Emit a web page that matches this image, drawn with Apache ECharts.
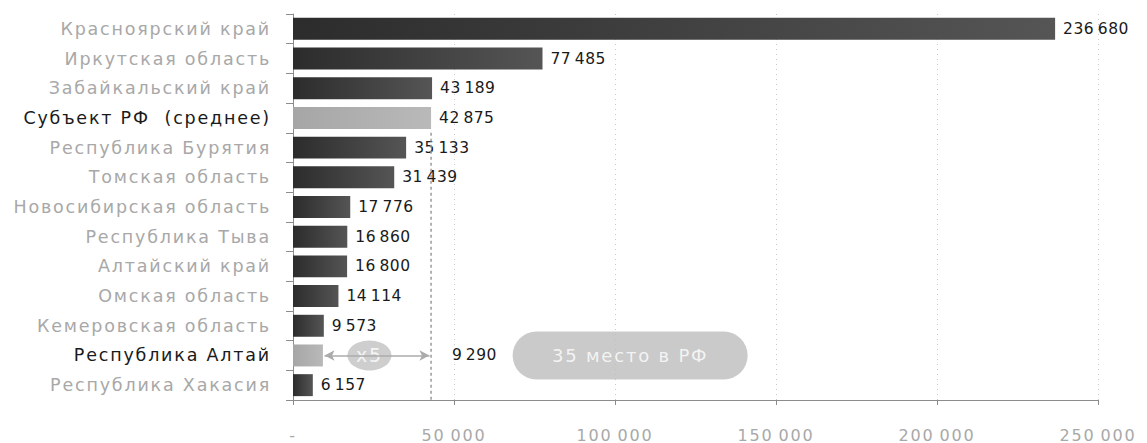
<!DOCTYPE html>
<html><head><meta charset="utf-8">
<script src="https://cdn.jsdelivr.net/npm/echarts@6/dist/echarts.min.js"></script>
<style>html,body{margin:0;padding:0;background:#fff}#c{width:1147px;height:443px}
#c svg text{letter-spacing:1.8px}
#c svg text[style*="15.5px"]{letter-spacing:0.5px}</style>
</head><body><div id="c"></div>
<script>
const categories = ['Красноярский край','Иркутская область','Забайкальский край','Субъект РФ  (среднее)','Республика Бурятия','Томская область','Новосибирская область','Республика Тыва','Алтайский край','Омская область','Кемеровская область','Республика Алтай','Республика Хакасия'];
const values = [236680, 77485, 43189, 42875, 35133, 31439, 17776, 16860, 16800, 14114, 9573, 9290, 6157];
const highlighted = ['Субъект РФ  (среднее)', 'Республика Алтай'];
const meanCategory = 'Субъект РФ  (среднее)';
const focusCategory = 'Республика Алтай';
const ratioText = 'x5';
const rankText = '35 место в РФ';
const xTicks = [0, 50000, 100000, 150000, 200000, 250000];

const meanValue = values[categories.indexOf(meanCategory)];
const focusIdx = categories.indexOf(focusCategory);
const focusValue = values[focusIdx];

function fmt(v){ return String(v).replace(/\B(?=(\d{3})+(?!\d))/g, '\u2009'); }

const darkGrad = {type:'linear',x:0,y:0,x2:1,y2:0,colorStops:[{offset:0,color:'#2c2c2c'},{offset:1,color:'#555555'}]};
const lightGrad = {type:'linear',x:0,y:0,x2:1,y2:0,colorStops:[{offset:0,color:'#a6a6a6'},{offset:1,color:'#b9b9b9'}]};

const barData = categories.map((c,i)=>{
  const item = {value: values[i], itemStyle:{color: highlighted.includes(c) ? lightGrad : darkGrad}};
  if (c === focusCategory) item.label = {offset:[121,0]};
  return item;
});

const chart = echarts.init(document.getElementById('c'), null, {renderer:'svg'});
chart.setOption({
  animation:false,
  grid:{left:293,right:49,top:14,bottom:41},
  xAxis:{type:'value',min:xTicks[0],max:xTicks[xTicks.length-1],interval:50000,
    axisLine:{show:true,onZero:false,lineStyle:{color:'#8c8c8c'}},
    axisTick:{show:true,length:5,lineStyle:{color:'#8c8c8c'}},
    axisLabel:{margin:27,color:'#a8a8a8',fontFamily:'DejaVu Sans',fontSize:16,
      formatter:v=> v===0 ? '-' : fmt(v)},
    splitLine:{show:true,lineStyle:{color:'#c8c8c8',type:[1,4]}}},
  yAxis:[{type:'category',data:categories,inverse:true,
    axisLine:{show:true,lineStyle:{color:'#8c8c8c'}},
    axisTick:{show:true,length:7,lineStyle:{color:'#8c8c8c'}},
    axisLabel:{margin:22,fontFamily:'DejaVu Sans',fontSize:17.5,
      color:(v)=> highlighted.includes(v) ? '#1a1a1a' : '#a8a8a8'}},
    {type:'value',min:0,max:categories.length,inverse:true,show:false}],
  series:[
    {type:'bar',data:barData,barCategoryGap:'26%',
      label:{show:true,position:'right',distance:8,color:'#1a1a1a',fontFamily:'DejaVu Sans',fontSize:15.5,
        formatter:p=>fmt(p.value)}},
    {type:'line',xAxisIndex:0,yAxisIndex:1,symbol:'none',silent:true,
      data:[[meanValue, categories.indexOf(meanCategory)+1],[meanValue, categories.length]],
      lineStyle:{color:'#9a9a9a',width:1.5,type:[3,3]},
      markLine:{silent:true,symbol:['arrow','arrow'],symbolSize:[8,10],
        lineStyle:{color:'#ababab',width:1.5,type:'solid'},label:{show:false},
        data:[[{coord:[focusValue+500, focusIdx+0.5]},{coord:[meanValue-500, focusIdx+0.5]}]]}},
    {type:'scatter',xAxisIndex:0,yAxisIndex:1,silent:true,symbol:'circle',symbolSize:[44,30],
      itemStyle:{color:'#c2c2c2'},
      data:[[focusValue+(meanValue-focusValue)*0.43, focusIdx+0.5]],
      label:{show:true,position:'inside',formatter:ratioText,color:'#fff',fontFamily:'DejaVu Sans',fontSize:19}},
    {type:'scatter',xAxisIndex:0,yAxisIndex:1,silent:true,symbolSize:1,itemStyle:{color:'rgba(0,0,0,0)'},
      data:[[104700, focusIdx+0.5]],
      label:{show:true,position:'inside',formatter:rankText,color:'#fff',fontFamily:'DejaVu Sans',fontSize:18,
        backgroundColor:'#bdbdbd',borderRadius:24,width:235,height:48,align:'center',verticalAlign:'middle',lineHeight:48}}
  ]
});
</script></body></html>
